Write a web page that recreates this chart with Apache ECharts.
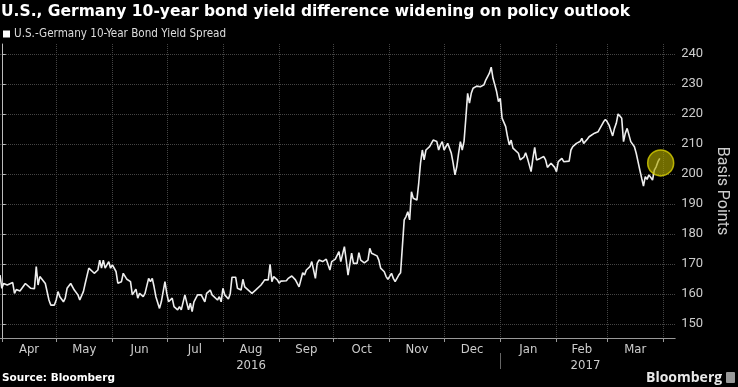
<!DOCTYPE html>
<html><head><meta charset="utf-8">
<script src="https://cdn.jsdelivr.net/npm/echarts@6/dist/echarts.min.js"></script>
<style>html,body{margin:0;padding:0;background:#000;}#c{width:738px;height:387px;}</style>
</head><body><div id="c"></div>
<script>
// days since 2016-04-01
const dayOffsets = [-1,0,1,3,4,6,7,8,10,11,13,14,16,17,18,19,20,21,22,24,26,27,29,30,31,32,34,35,36,38,39,40,42,43,45,46,48,49,51,53,54,55,56,57,59,60,61,63,
64,66,67,69,70,71,72,74,75,76,78,79,81,82,83,84,85,87,88,90,91,92,94,95,97,98,99,101,102,103,104,105,106,108,109,110,112,113,115,116,117,119,120,121,122,123,125,126,
127,129,130,132,133,134,135,136,138,139,140,141,143,144,145,147,148,149,150,152,153,154,155,157,158,160,161,162,164,165,166,167,168,170,171,172,173,174,175,176,177,178,179,180,181,182,184,185,
186,187,189,190,191,193,194,196,197,198,200,202,203,204,205,207,208,209,211,212,213,215,216,217,219,220,221,222,223,224,225,226,227,229,230,231,232,233,234,236,237,238,240,241,242,243,244,
245,246,248,249,250,251,252,253,254,255,256,257,258,259,260,262,263,264,266,267,268,269,270,271,272,273,274,275,276,278,279,280,281,282,283,285,286,287,288,289,290,292,293,294,295,296,297,299,300,301,302,303,305,306,
307,309,310,311,313,314,315,317,318,319,320,321,323,324,325,327,328,329,330,331,332,333,334,335,337,338,339,340,341,342,343,344,345,346,347,348,349,350,351,352,353,354,355,356,357,358,359,360,361,362,363];
const spreadValues = [166.3,161.9,163.5,163,163.5,163.8,160.2,161.5,161,160.8,163.5,163,161.9,161.3,161.8,169.1,163,165.8,165.2,163.5,158,156.3,156.3,158,160.8,159.1,157.4,158.6,161.9,163.5,163.5,161.3,159.7,158,160.8,163.5,168.6,168,166.9,168,171.3,168.6,171.3,168.6,170.8,168.6,169.7,167.5,
163.6,164.1,166.9,164.9,165.2,164.1,159.7,161.6,158.6,160.2,159.1,160.2,165.2,164.1,165.2,162.4,159.1,155.2,157.4,164.1,160.2,157.4,158.6,155.8,154.7,155.8,154.7,159.7,160.2,154.7,156.9,154.1,157.4,159.7,159.1,159.7,157.4,160.2,161.3,159.7,159.1,158,159.1,157.4,161.9,159.7,158.3,160,
165.6,165.6,161.9,161.3,164.9,162.4,163,161.3,160.2,160,161.3,161.1,163,163.8,164.7,164.7,169.9,164.1,165.8,164.7,163.6,164.3,164.7,164.4,165.2,166,166.3,164.7,162.4,164.7,167.1,166.3,168,169.1,170.8,170.2,165.2,170.2,171.3,171.3,170.8,170.4,171.6,171.9,168,170.8,171.6,172.2,
174.1,170.8,175.8,171.3,166.3,173.6,170.2,170.2,173.8,171.3,170.4,171.3,175.2,173.6,174.1,172.7,171.3,168.6,167.4,165.8,164.9,166.9,165.2,164.1,166.3,167.1,166.9,184.7,185.8,187.4,184.7,194.1,191.9,191.3,196.9,203.6,208,204.7,208,209.1,208.9,211.3,210.8,208,209.7,210.8,208,
208.6,210.2,206.9,203.6,199.7,202.4,206.9,210.8,208,210.8,218.6,226.9,223.6,226.9,228.6,229.3,229.3,229.1,229.7,231.3,231.9,233.6,235.6,231.9,229.7,227.4,224.1,225.2,218.6,215.8,212.4,209.7,211.3,208.6,209.1,206.9,204.7,205.2,205.6,207.1,205.2,200.8,205.2,208.9,204.7,204.1,205.2,205.8,204.7,202.2,202.4,203.6,202.2,200.8,
204.1,205.2,204.1,204.3,204.3,208,209.1,210.2,210.4,210.8,211.9,210.2,211.6,212.4,213,213.6,213.8,214.1,213.6,216.3,217.4,218.2,217.4,216.3,212.7,215.2,216.9,220,219.3,218.6,210.8,213.6,215.2,215.2,210.8,211.3,209.1,206.9,204.1,201.3,198.6,196,199.1,198.2,199.7,199.1,198,201.3,202.4,204.1,205.2];
const highlightDay = [363.5];
const highlightValue = [203.7];
const monthStarts = [0,30,61,91,122,153,183,214,244,275,306,334,365];
const monthMids = [15,45.5,76,106.5,137.5,168,198.5,229,259.5,290.5,320,349.5];
const monthNames = ['Apr','May','Jun','Jul','Aug','Sep','Oct','Nov','Dec','Jan','Feb','Mar'];
const yearSplit = [275];
const yearMids = [137.5,322];
const yearNames = ['2016','2017'];
const yTicks = [150,160,170,180,190,200,210,220,230,240];
const seriesName = 'U.S.-Germany 10-Year Bond Yield Spread';

const narrow = "'Liberation Sans Narrow','DejaVu Sans Condensed',Roboto,sans-serif";
const chart = echarts.init(document.getElementById('c'), null, {renderer:'canvas'});
const lineData = dayOffsets.map((d,i)=>[d, spreadValues[i]]);
const xMin = -1, xMax = 371.5;
chart.setOption({
  backgroundColor:'#000',
  animation:false,
  title:{text:'U.S., Germany 10-year bond yield difference widening on policy outlook',left:1,top:4,padding:0,
    textStyle:{color:'#fff',fontSize:15.5,fontWeight:'bold',fontFamily:"'DejaVu Sans',sans-serif"}},
  legend:{data:[seriesName],left:3,top:28,padding:0,icon:'rect',itemWidth:7,itemHeight:7,itemGap:4,
    textStyle:{color:'#ddd',fontSize:11.6,fontFamily:narrow,padding:[0,0,0,-1]}},
  grid:{left:0,right:48,top:44,bottom:49,containLabel:false},
  xAxis:[{
    type:'value',min:xMin,max:xMax,
    axisLine:{show:true,lineStyle:{color:'#999',width:1}},
    axisTick:{show:true,customValues:monthStarts,length:4,lineStyle:{color:'#999'}},
    axisLabel:{show:true,customValues:monthMids,margin:5,color:'#ccc',fontSize:13,fontFamily:narrow,
      formatter:v=>monthNames[monthMids.indexOf(v)]},
    splitLine:{show:true,lineStyle:{color:'#444',type:'dotted',width:1}}
  },{
    type:'value',min:xMin,max:xMax,position:'bottom',offset:15,
    axisLine:{show:false},
    axisTick:{show:true,customValues:yearSplit,length:16,lineStyle:{color:'#666'}},
    axisLabel:{show:true,customValues:yearMids,margin:6,color:'#ccc',fontSize:13,fontFamily:narrow,
      formatter:v=>yearNames[yearMids.indexOf(v)]},
    splitLine:{show:false}
  }],
  yAxis:{
    type:'value',position:'right',min:145.33,max:243.33,
    name:'Basis Points',nameLocation:'middle',nameRotate:-90,nameGap:38,
    nameTextStyle:{color:'#ccc',fontSize:16,fontFamily:"Roboto,sans-serif"},
    axisLine:{show:true,lineStyle:{color:'#bbb',width:1}},
    axisTick:{show:true,customValues:yTicks,length:4,lineStyle:{color:'#bbb'}},
    axisLabel:{show:true,customValues:yTicks,margin:6,color:'#ccc',fontSize:13,fontFamily:"Roboto,sans-serif"},
    splitLine:{show:true,lineStyle:{color:'#444',type:'dotted',width:1}}
  },
  series:[{
    name:seriesName,type:'line',data:lineData,showSymbol:false,symbol:'none',
    itemStyle:{color:'#fff'},
    lineStyle:{color:'#eee',width:1.6},z:3
  },{
    name:'highlight',type:'scatter',data:highlightDay.map((d,i)=>[d,highlightValue[i]]),
    symbolSize:26,itemStyle:{color:'rgba(175,168,0,0.8)',borderColor:'#d8d000',borderWidth:1.5},z:4,silent:true
  }],
  graphic:[
    {type:'text',left:2,top:373,style:{text:'Source: Bloomberg',fill:'#fff',font:"bold 10.5px 'DejaVu Sans',sans-serif"}},
    {type:'text',left:646,top:371,style:{text:'Bloomberg',fill:'#e8e8e8',font:"bold 14px 'Open Sans',sans-serif"}},
    {type:'rect',left:726,top:372,shape:{width:9,height:11,r:1},style:{fill:'#999'}}
  ]
});
</script></body></html>
